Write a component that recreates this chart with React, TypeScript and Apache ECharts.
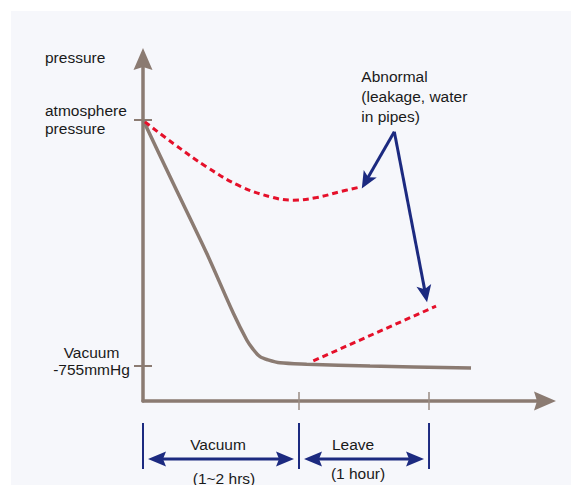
import React, { useEffect, useRef } from 'react';
import * as echarts from 'echarts';

// ---- data (time in hours, pressure in mmHg gauge) ----
const normalTime = [0, 0.233, 0.49, 0.695, 0.798, 0.846, 0.9, 0.962, 1.054, 1.259, 1.746, 2.523];
const normalPressure = [0, -196, -410, -594, -676, -704, -727, -737, -746, -750, -756, -762];

const leakTime = [0.015, 0.233, 0.49, 0.746, 1.002, 1.156, 1.336, 1.515, 1.656];
const leakPressure = [-7, -73, -145, -204, -239, -247, -239, -221, -208];

const waterTime = [1.31, 2.254];
const waterPressure = [-740, -572];

const phaseBounds = [0, 1.2, 2.2];
const phaseNames = ['Vacuum', 'Leave'];
const phaseDurations = ['(1~2 hrs)', '(1 hour)'];

const pressureTicks = [0, -755];
const pressureLabels = ['atmosphere\npressure', 'Vacuum\n-755mmHg'];
const axisTitle = 'pressure';
const abnormalNote = 'Abnormal\n(leakage, water\nin pipes)';
const notePoint = [1.933, -37];

const X_MAX = 3.092;
const Y_MIN = -863;
const Y_MAX = 186;

// ---- styles ----
const AXIS = '#8b7b72';
const TICK = '#9a8c84';
const RED = '#e5102a';
const NAVY = '#1c2a80';
const TEXT = '#1a1a1a';
const FONT = '"Liberation Sans", Arial, Helvetica, sans-serif';
const FS = 15.5;
const ARROW = 'path://M9.5,0 L19,22 L9.5,19 L0,22 Z';

function head(tx: number, ty: number, fx: number, fy: number, len: number, hw: number, notch: number) {
  const dx = tx - fx, dy = ty - fy;
  const d = Math.sqrt(dx * dx + dy * dy) || 1;
  const ux = dx / d, uy = dy / d;
  const px = -uy, py = ux;
  const bx = tx - ux * len, by = ty - uy * len;
  return {
    type: 'polygon',
    shape: {
      points: [
        [tx, ty],
        [bx + px * hw, by + py * hw],
        [tx - ux * (len - notch), ty - uy * (len - notch)],
        [bx - px * hw, by - py * hw],
      ],
    },
    style: { fill: NAVY },
  };
}

function arrowLine(fx: number, fy: number, tx: number, ty: number, width: number, len: number, hw: number, notch: number) {
  const dx = tx - fx, dy = ty - fy;
  const d = Math.sqrt(dx * dx + dy * dy) || 1;
  const ex = tx - (dx / d) * len * 0.6, ey = ty - (dy / d) * len * 0.6;
  return [
    { type: 'line', shape: { x1: fx, y1: fy, x2: ex, y2: ey }, style: { stroke: NAVY, lineWidth: width } },
    head(tx, ty, fx, fy, len, hw, notch),
  ];
}

function txt(x: number, y: number, text: string, align: string, lh: number) {
  return {
    type: 'text',
    x,
    y,
    style: {
      text,
      fill: TEXT,
      fontSize: FS,
      fontFamily: FONT,
      align,
      textAlign: align,
      verticalAlign: 'middle',
      textVerticalAlign: 'middle',
      lineHeight: lh,
    },
  };
}

function buildOption(): any {
  const axisBase = {
    type: 'value',
    axisLabel: { show: false },
    splitLine: { show: false },
  };
  const xCommon = { ...axisBase, min: 0, max: X_MAX, position: 'bottom', gridIndex: 0 };
  const yCommon = { ...axisBase, min: Y_MIN, max: Y_MAX, position: 'left', gridIndex: 0 };

  const nameDx = [-3, -11];
  const durDx = [3, -6];
  const durDy = [77, 72.5];
  const labelStyle = [
    { dx: -98, dy: -0.5, align: 'left', lh: 18 },
    { dx: -51.5, dy: -5, align: 'center', lh: 17 },
  ];

  return {
    animation: false,
    grid: { left: 143, right: 26, top: 59, bottom: 84 },
    xAxis: [
      {
        ...xCommon,
        axisLine: {
          show: true,
          onZero: false,
          symbol: ['none', ARROW],
          symbolSize: [19, 22],
          lineStyle: { color: AXIS, width: 3.5 },
        },
        axisTick: { show: true, customValues: phaseBounds.slice(1), length: 9, lineStyle: { color: TICK, width: 1.5 } },
      },
      {
        ...xCommon,
        axisLine: { show: false, onZero: false },
        axisTick: { show: true, inside: true, customValues: phaseBounds.slice(1), length: 9, lineStyle: { color: TICK, width: 1.5 } },
      },
    ],
    yAxis: [
      {
        ...yCommon,
        axisLine: {
          show: true,
          onZero: false,
          symbol: ['none', ARROW],
          symbolSize: [19, 22],
          lineStyle: { color: AXIS, width: 3.5 },
        },
        axisTick: { show: true, customValues: pressureTicks, length: 9, lineStyle: { color: AXIS, width: 2 } },
      },
      {
        ...yCommon,
        axisLine: { show: false, onZero: false },
        axisTick: { show: true, inside: true, customValues: pressureTicks, length: 9, lineStyle: { color: AXIS, width: 2 } },
      },
    ],
    series: [
      {
        name: 'Normal',
        type: 'line',
        data: normalTime.map((t, i) => [t, normalPressure[i]]),
        symbol: 'none',
        smooth: 0.3,
        lineStyle: { color: AXIS, width: 3.5 },
        z: 3,
      },
      {
        name: 'Abnormal (leakage)',
        type: 'line',
        data: leakTime.map((t, i) => [t, leakPressure[i]]),
        symbol: 'none',
        smooth: 0.4,
        lineStyle: { color: RED, width: 3, type: [6, 4] },
        z: 4,
      },
      {
        name: 'Abnormal (water in pipes)',
        type: 'line',
        data: waterTime.map((t, i) => [t, waterPressure[i]]),
        symbol: 'none',
        lineStyle: { color: RED, width: 3, type: [6, 4] },
        z: 4,
      },
      {
        name: 'phases',
        type: 'custom',
        clip: false,
        silent: true,
        z: 5,
        data: phaseNames.map((_, i) => [phaseBounds[i], phaseBounds[i + 1]]),
        renderItem: (params: any, api: any) => {
          const i = params.dataIndex;
          const a = api.coord([phaseBounds[i], Y_MIN]);
          const b = api.coord([phaseBounds[i + 1], Y_MIN]);
          const base = a[1];
          const x0 = a[0], x1 = b[0];
          const ay = base + 58;
          const vline = (x: number) => ({
            type: 'line',
            shape: { x1: x, y1: base + 22, x2: x, y2: base + 68 },
            style: { stroke: NAVY, lineWidth: 2 },
          });
          const L = 18, HW = 7.5, N = 3;
          const lx = x0 + 5, rx = x1 - 5;
          const children: any[] = [
            vline(x0),
            vline(x1),
            { type: 'line', shape: { x1: lx + L * 0.6, y1: ay, x2: rx - L * 0.6, y2: ay }, style: { stroke: NAVY, lineWidth: 3 } },
            head(lx, ay, rx, ay, L, HW, N),
            head(rx, ay, lx, ay, L, HW, N),
            txt((x0 + x1) / 2 + nameDx[i], base + 43.5, phaseNames[i], 'center', 18),
            txt((x0 + x1) / 2 + durDx[i], base + durDy[i], phaseDurations[i], 'center', 18),
          ];
          return { type: 'group', children };
        },
      },
      {
        name: 'pressure labels',
        type: 'custom',
        clip: false,
        silent: true,
        z: 5,
        data: pressureTicks.map((p) => [0, p]),
        renderItem: (params: any, api: any) => {
          const i = params.dataIndex;
          const pt = api.coord([0, pressureTicks[i]]);
          const s = labelStyle[i];
          const children: any[] = [txt(pt[0] + s.dx, pt[1] + s.dy, pressureLabels[i], s.align, s.lh)];
          if (i === 0) {
            const top = api.coord([0, Y_MAX]);
            children.push(txt(top[0] - 98, top[1] - 2, axisTitle, 'left', 18));
          }
          return { type: 'group', children };
        },
      },
      {
        name: 'abnormal note',
        type: 'custom',
        clip: false,
        silent: true,
        z: 6,
        data: [notePoint],
        renderItem: (params: any, api: any) => {
          const apex = api.coord(notePoint);
          const e1 = api.coord([leakTime[leakTime.length - 1], leakPressure[leakPressure.length - 1]]);
          const e2 = api.coord([waterTime[waterTime.length - 1], waterPressure[waterPressure.length - 1]]);
          const t1 = [e1[0] + 3.5, e1[1] + 1];
          const t2 = [e2[0] - 9, e2[1] - 4];
          const children: any[] = [
            ...arrowLine(apex[0], apex[1], t1[0], t1[1], 3, 17, 7.5, 4),
            ...arrowLine(apex[0], apex[1], t2[0], t2[1], 3, 17, 7.5, 4),
            txt(apex[0] - 33, apex[1] - 35.5, abnormalNote, 'left', 20),
          ];
          return { type: 'group', children };
        },
      },
    ],
  };
}

export default function App() {
  const ref = useRef<HTMLDivElement>(null);
  useEffect(() => {
    if (!ref.current) return;
    const chart = echarts.init(ref.current, null, { renderer: 'svg' });
    chart.setOption(buildOption());
    return () => chart.dispose();
  }, []);
  return (
    <div style={{ position: 'fixed', left: 0, top: 0, width: 571, height: 485, background: '#ffffff', overflow: 'hidden' }}>
      <div style={{ position: 'absolute', left: 11, top: 11, right: 0, bottom: 0, background: '#f6f7fb' }} />
      <div ref={ref} style={{ position: 'absolute', left: 0, top: 0, width: 571, height: 485 }} />
    </div>
  );
}
